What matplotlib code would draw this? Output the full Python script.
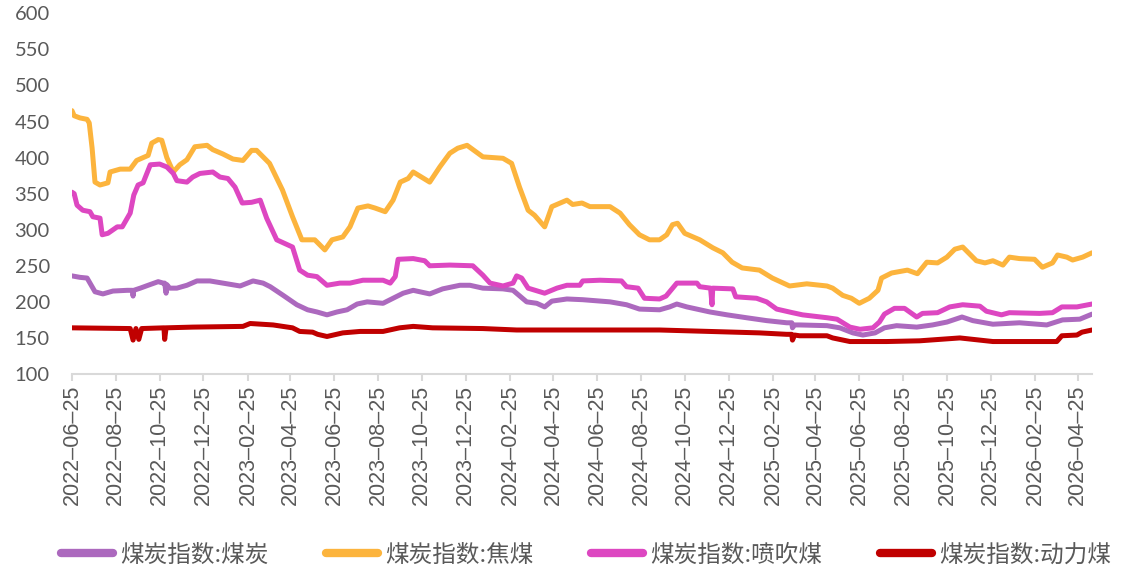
import matplotlib
matplotlib.use("Agg")
import matplotlib.pyplot as plt
import pandas as pd

start_date = "2022-06-25"

# 煤炭指数:焦煤 (coking coal) - days since start, values
coke_days = [0, 3, 11, 21, 24, 28, 32, 39, 50, 53, 67, 81, 90, 106, 111, 120, 125, 132, 141, 150,
             160, 171, 188, 196, 210, 224, 238, 250, 257, 275, 293, 307, 320, 338, 352, 362, 377, 387,
             398, 412, 422, 436, 447, 457, 468, 475, 498, 512, 526, 537, 550, 572, 600, 612, 623, 635,
             644, 658, 668, 689, 697, 710, 721, 749, 763, 776, 790, 804, 818, 828, 836, 843, 853, 874,
             892, 906, 919, 933, 957, 975, 999, 1023, 1051, 1059, 1073, 1085, 1096, 1110, 1122, 1127,
             1141, 1163, 1177, 1190, 1205, 1218, 1229, 1240, 1259, 1271, 1282, 1296, 1305, 1319, 1340,
             1351, 1365, 1372, 1385, 1393, 1407, 1420]
coke_vals = [465, 458, 455, 453, 448, 413, 366, 362, 365, 380, 384, 384, 396, 403, 420, 425, 424, 400, 380, 390,
             397, 415, 417, 411, 405, 398, 396, 410, 410, 392, 355, 318, 286, 286, 272, 286, 290, 304,
             330, 333, 330, 325, 341, 366, 371, 380, 366, 387, 406, 413, 417, 401, 399, 392, 359, 327,
             320, 304, 332, 341, 335, 337, 332, 332, 323, 307, 293, 286, 286, 293, 307, 309, 295, 286,
             275, 268, 255, 247, 244, 233, 222, 225, 222, 219, 209, 205, 198, 205, 216, 233,
             240, 244, 239, 255, 254, 262, 273, 276, 257, 254, 257, 251, 262, 260, 259,
             248, 254, 265, 262, 258, 262, 268]

# 煤炭指数:喷吹煤 (PCI coal)
pci_days = [0, 3, 7, 15, 25, 29, 39, 42, 50, 63, 70, 81, 86, 92, 99, 109, 122, 132, 141, 146, 160, 168,
            178, 196, 206, 217, 227, 237, 250, 262, 271, 285, 307, 317, 328, 341, 355, 373, 387, 405, 433,
            443, 450, 454, 475, 491, 498, 526, 558, 572, 582, 600, 614, 619, 626, 635, 658, 675, 689, 707,
            711, 735, 765, 772, 788, 797, 818, 827, 842, 870, 874, 889, 891, 892, 920, 924, 953, 967, 981,
            1003, 1017, 1051, 1065, 1083, 1097, 1115, 1124, 1131, 1145, 1159, 1176, 1184, 1205, 1222, 1240,
            1264, 1273, 1294, 1305, 1347, 1365, 1378, 1399, 1420]
pci_vals = [352, 350, 334, 327, 325, 318, 316, 293, 295, 304, 304, 323, 348, 362, 365, 390, 391, 387, 378, 368, 366, 373,
            378, 380, 373, 371, 359, 337, 338, 341, 316, 286, 276, 244, 237, 235, 223, 226, 226, 230, 230,
            226, 235, 259, 260, 257, 250, 251, 250, 237, 226, 222, 226, 236, 233, 219, 212, 219, 223, 223,
            229, 230, 229, 221, 219, 205, 204, 208, 226, 226, 221, 219, 196, 219, 218, 207, 205, 200, 190,
            185, 182, 178, 176, 165, 162, 164, 172, 183, 191, 191, 179, 184, 185, 193, 196,
            194, 187, 182, 185, 184, 185, 193, 193, 197]

# 煤炭指数:煤炭 (coal)
coal_days = [0, 11, 21, 32, 43, 57, 77, 84, 85, 86, 95, 106, 120, 127, 129, 131, 132, 136, 146, 160, 174,
             192, 210, 234, 252, 266, 276, 294, 313, 328, 341, 355, 369, 383, 397, 411, 433, 447, 461, 475,
             498, 516, 540, 554, 572, 600, 614, 633, 647, 658, 668, 689, 711, 749, 772, 790, 818, 832, 842,
             856, 888, 912, 939, 967, 995, 1002, 1003, 1006, 1013, 1051, 1069, 1087, 1101, 1118, 1131, 1148,
             1176, 1198, 1218, 1239, 1254, 1282, 1319, 1357, 1379, 1403, 1420]
coal_vals = [236, 234, 233, 214, 211, 215, 216, 216, 208, 216, 219, 223, 228, 226, 226, 212, 224, 219, 219, 223, 229,
             229, 226, 222, 229, 226, 221, 209, 196, 189, 186, 182, 186, 189, 197, 200, 198, 205, 212, 216,
             211, 218, 223, 223, 219, 218, 216, 200, 198, 193, 201, 204, 203, 200, 196, 190, 189, 193, 197,
             193, 186, 182, 178, 174, 171, 171, 164, 168, 168, 167, 164, 157, 154, 157, 164, 167,
             165, 168, 172, 179, 174, 169, 171, 168, 175, 176, 183]

# 煤炭指数:动力煤 (thermal coal)
steam_days = [0, 81, 85, 89, 93, 97, 128, 129, 131, 168, 238, 248, 280, 307, 317, 335, 342, 355, 377, 401,
              433, 456, 475, 502, 572, 619, 731, 818, 957, 995, 1002, 1003, 1006, 1013, 1051, 1059, 1083,
              1134, 1180, 1236, 1282, 1371, 1378, 1399, 1406, 1420]
steam_vals = [164, 163, 147, 163, 148, 163, 164, 148, 164, 165, 166, 170, 168, 164, 159, 158, 155, 152, 157, 159,
              159, 164, 166, 164, 163, 161, 161, 161, 157, 155, 155, 147, 154, 153, 153, 150, 145,
              145, 146, 150, 145, 145, 153, 154, 158, 161]

tick_labels = ["2022-06-25", "2022-08-25", "2022-10-25", "2022-12-25",
               "2023-02-25", "2023-04-25", "2023-06-25", "2023-08-25", "2023-10-25", "2023-12-25",
               "2024-02-25", "2024-04-25", "2024-06-25", "2024-08-25", "2024-10-25", "2024-12-25",
               "2025-02-25", "2025-04-25", "2025-06-25", "2025-08-25", "2025-10-25", "2025-12-25",
               "2026-02-25", "2026-04-25"]

series = [
    ("煤炭指数:煤炭", coal_days, coal_vals, "#AC69BE"),
    ("煤炭指数:焦煤", coke_days, coke_vals, "#FCB43D"),
    ("煤炭指数:喷吹煤", pci_days, pci_vals, "#DD47C1"),
    ("煤炭指数:动力煤", steam_days, steam_vals, "#C00000"),
]

t0 = pd.Timestamp(start_date)

fig = plt.figure(figsize=(11.44, 5.70), dpi=100)
ax = fig.add_axes([72 / 1144, 1 - 374 / 570, (1092 - 72) / 1144, (374 - 13.3) / 570])

handles = []
for name, days, vals, color in series:
    dates = t0 + pd.to_timedelta(days, unit="D")
    ln, = ax.plot(dates, vals, color=color, lw=3.6, solid_joinstyle="round",
                  solid_capstyle="round", label=name)
    handles.append(ln)

end = t0 + pd.to_timedelta(max(coke_days), unit="D")
ax.set_xlim(t0, end)
ax.set_ylim(100, 600)
ax.set_yticks(range(100, 601, 50))

tick_dates = pd.to_datetime(tick_labels)
ax.set_xticks(tick_dates)
ax.set_xticklabels([s.replace("-", "\u2013") for s in tick_labels], rotation=90,
                   fontfamily=["Liberation Sans", "DejaVu Sans"], fontsize=15.5, color="#595959")

for lbl in ax.get_yticklabels():
    lbl.set_fontfamily(["Lato", "DejaVu Sans"])
    lbl.set_fontsize(14.5)
    lbl.set_color("#595959")

for s in ["top", "right", "left"]:
    ax.spines[s].set_visible(False)
ax.spines["bottom"].set_color("#d9d9d9")
ax.spines["bottom"].set_linewidth(1.5)
ax.tick_params(axis="x", colors="#d9d9d9", length=5, width=1.5, pad=3, labelcolor="#595959")
ax.tick_params(axis="y", length=0, pad=16, labelcolor="#595959")

leg = fig.legend(handles=handles, loc="center", bbox_to_anchor=(586 / 1144, 15 / 570), ncol=4,
                 frameon=False, handlelength=2.2, handletextpad=0.3, columnspacing=2.45,
                 prop={"family": ["Noto Sans CJK SC", "DejaVu Sans"], "size": 17})
for t in leg.get_texts():
    t.set_color("#595959")
for h in leg.legend_handles:
    h.set_linewidth(6)
    h.set_solid_capstyle("round")

fig.savefig("out.png", dpi=100)
